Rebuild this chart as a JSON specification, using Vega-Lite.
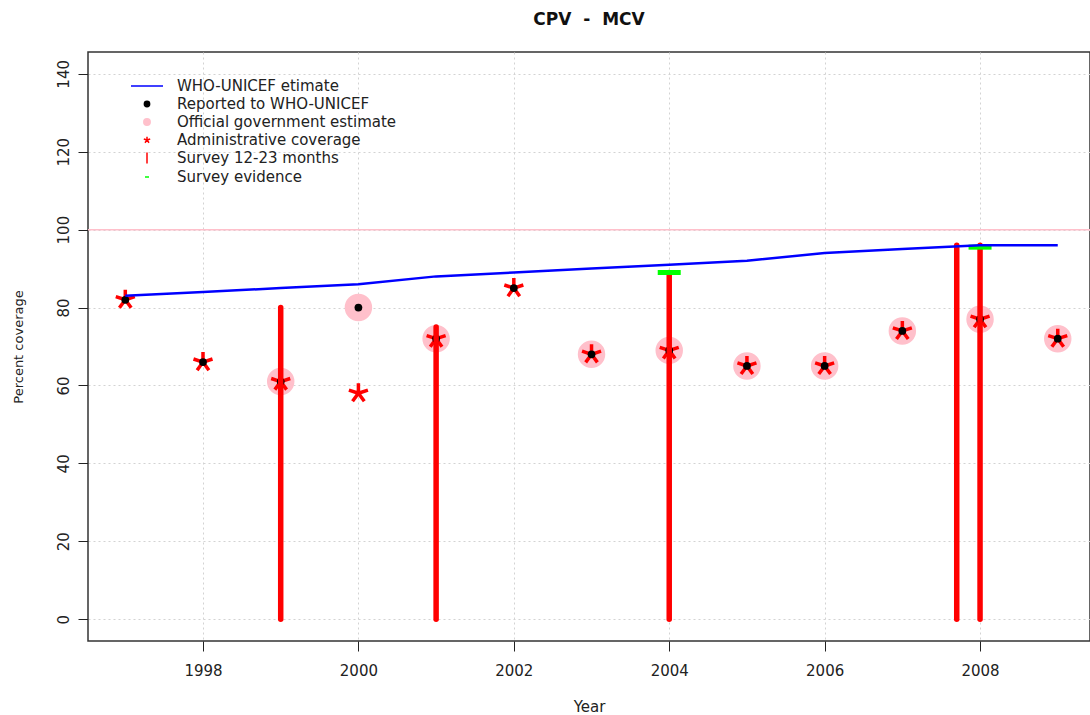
{
  "$schema": "https://vega.github.io/schema/vega-lite/v6.json",
  "width": 1002,
  "height": 589,
  "autosize": {"type": "none"},
  "padding": {"left": 88, "top": 52, "right": 0, "bottom": 74},
  "background": "white",
  "title": {"text": "CPV \u00a0-\u00a0 MCV", "font": "DejaVu Sans", "fontSize": 17, "fontWeight": "bold", "color": "#111111", "anchor": "middle", "baseline": "alphabetic", "frame": "group", "offset": 10},
  "datasets": {
    "main": [
      {"year": 1997, "who": 83, "reported": 82, "official": null, "admin": 82},
      {"year": 1998, "who": 84, "reported": 66, "official": null, "admin": 66},
      {"year": 1999, "who": 85, "reported": 61, "official": 61, "admin": 61},
      {"year": 2000, "who": 86, "reported": 80, "official": 80, "admin": 58},
      {"year": 2001, "who": 88, "reported": 72, "official": 72, "admin": 72},
      {"year": 2002, "who": 89, "reported": 85, "official": null, "admin": 85},
      {"year": 2003, "who": 90, "reported": 68, "official": 68, "admin": 68},
      {"year": 2004, "who": 91, "reported": 69, "official": 69, "admin": 69},
      {"year": 2005, "who": 92, "reported": 65, "official": 65, "admin": 65},
      {"year": 2006, "who": 94, "reported": 65, "official": 65, "admin": 65},
      {"year": 2007, "who": 95, "reported": 74, "official": 74, "admin": 74},
      {"year": 2008, "who": 96, "reported": 77, "official": 77, "admin": 77},
      {"year": 2009, "who": 96, "reported": 72, "official": 72, "admin": 72}
    ],
    "survey": [
      {"year": 1999, "survey": 80},
      {"year": 2001, "survey": 75},
      {"year": 2004, "survey": 89},
      {"year": 2007.7, "survey": 96},
      {"year": 2008, "survey": 96}
    ],
    "evidence": [
      {"year": 2004, "evidence": 89},
      {"year": 2008, "evidence": 95.5}
    ],
    "ref": [{"ref": 100}],
    "legend": [
      {"series": "WHO-UNICEF etimate"},
      {"series": "Reported to WHO-UNICEF"},
      {"series": "Official government estimate"},
      {"series": "Administrative coverage"},
      {"series": "Survey 12-23 months"},
      {"series": "Survey evidence"}
    ]
  },
  "layer": [
    {
      "data": {"name": "ref"},
      "mark": {"type": "rule", "color": "#FFC0CB", "strokeWidth": 1.5},
      "encoding": {
        "y": {"field": "ref", "type": "quantitative", "title": "Percent coverage", "scale": {"domain": [-5.6, 145.6], "nice": false, "zero": false}, "axis": {"values": [0, 20, 40, 60, 80, 100, 120, 140]}}
      }
    },
    {
      "data": {"name": "main"},
      "mark": {"type": "point", "shape": "circle", "filled": true, "color": "#FFC0CB", "size": 755, "opacity": 1},
      "encoding": {
        "x": {"field": "year", "type": "quantitative", "title": "Year", "scale": {"domain": [1996.52, 2009.415], "nice": false, "zero": false}, "axis": {"values": [1998, 2000, 2002, 2004, 2006, 2008], "format": "d"}},
        "y": {"field": "official", "type": "quantitative", "title": "Percent coverage"}
      }
    },
    {
      "data": {"name": "main"},
      "mark": {"type": "point", "shape": "M0,0L0,-1M0,0L0.951,-0.309M0,0L0.588,0.809M0,0L-0.588,0.809M0,0L-0.951,-0.309", "filled": false, "stroke": "#FF0000", "strokeWidth": 3.5, "size": 400, "opacity": 1},
      "encoding": {
        "x": {"field": "year", "type": "quantitative", "title": "Year"},
        "y": {"field": "admin", "type": "quantitative", "title": "Percent coverage"}
      }
    },
    {
      "data": {"name": "main"},
      "mark": {"type": "point", "shape": "circle", "filled": true, "color": "#000000", "size": 60, "opacity": 1},
      "encoding": {
        "x": {"field": "year", "type": "quantitative", "title": "Year"},
        "y": {"field": "reported", "type": "quantitative", "title": "Percent coverage"}
      }
    },
    {
      "data": {"name": "survey"},
      "mark": {"type": "rule", "color": "#FF0000", "strokeWidth": 5.5, "strokeCap": "round"},
      "encoding": {
        "x": {"field": "year", "type": "quantitative", "title": "Year"},
        "y": {"field": "survey", "type": "quantitative", "title": "Percent coverage"},
        "y2": {"datum": 0}
      }
    },
    {
      "data": {"name": "evidence"},
      "mark": {"type": "tick", "orient": "horizontal", "color": "#00FF00", "size": 23, "thickness": 5, "opacity": 1},
      "encoding": {
        "x": {"field": "year", "type": "quantitative", "title": "Year"},
        "y": {"field": "evidence", "type": "quantitative", "title": "Percent coverage"}
      }
    },
    {
      "data": {"name": "main"},
      "mark": {"type": "line", "color": "#0000FF", "strokeWidth": 2.5},
      "encoding": {
        "x": {"field": "year", "type": "quantitative", "title": "Year"},
        "y": {"field": "who", "type": "quantitative", "title": "Percent coverage"}
      }
    },
    {
      "data": {"name": "legend"},
      "transform": [{"filter": "false"}],
      "mark": {"type": "point", "filled": true, "size": 256, "strokeWidth": 1.5, "opacity": 1},
      "encoding": {
        "fill": {"field": "series", "type": "nominal", "title": null,
          "scale": {"domain": ["WHO-UNICEF etimate", "Reported to WHO-UNICEF", "Official government estimate", "Administrative coverage", "Survey 12-23 months", "Survey evidence"],
                    "range": ["transparent", "#000000", "#FFC0CB", "transparent", "transparent", "transparent"]},
          "legend": {"title": null, "orient": "none", "legendX": 50, "legendY": 25}},
        "stroke": {"field": "series", "type": "nominal", "title": null,
          "scale": {"domain": ["WHO-UNICEF etimate", "Reported to WHO-UNICEF", "Official government estimate", "Administrative coverage", "Survey 12-23 months", "Survey evidence"],
                    "range": ["#0000FF", "#000000", "#FFC0CB", "#FF0000", "#FF0000", "#00FF00"]},
          "legend": {"title": null, "orient": "none", "legendX": 50, "legendY": 25}},
        "shape": {"field": "series", "type": "nominal", "title": null,
          "scale": {"domain": ["WHO-UNICEF etimate", "Reported to WHO-UNICEF", "Official government estimate", "Administrative coverage", "Survey 12-23 months", "Survey evidence"],
                    "range": ["M-2,0L2,0", "M-0.33,0A0.33,0.33,0,1,1,0.33,0A0.33,0.33,0,1,1,-0.33,0Z", "M-0.4,0A0.4,0.4,0,1,1,0.4,0A0.4,0.4,0,1,1,-0.4,0Z", "M0,0L0,-0.42M0,0L0.4,-0.13M0,0L0.25,0.34M0,0L-0.25,0.34M0,0L-0.4,-0.13", "M0,-0.7L0,0.7", "M-0.25,0L0.25,0"]},
          "legend": {"title": null, "orient": "none", "legendX": 50, "legendY": 25}}
      }
    }
  ],
  "config": {
    "font": "DejaVu Sans",
    "view": {"stroke": "#333333", "strokeWidth": 1.5},
    "axis": {"domain": false, "grid": true, "gridColor": "#D3D3D3", "gridDash": [2, 3], "gridWidth": 1, "tickColor": "#222222", "tickSize": 10, "tickWidth": 1, "labelFont": "DejaVu Sans", "labelFontSize": 15, "labelColor": "#222222", "labelFlush": false, "labelOverlap": false, "titleFont": "DejaVu Sans", "titleFontWeight": "normal", "titleColor": "#222222"},
    "axisX": {"labelPadding": 12, "titleY": 70, "titleBaseline": "alphabetic", "titleFontSize": 15},
    "axisY": {"labelAngle": -90, "labelAlign": "center", "labelBaseline": "alphabetic", "labelPadding": 10, "titleX": -66, "titleBaseline": "alphabetic", "titleFontSize": 13},
    "legend": {"orient": "none", "legendX": 50, "legendY": 25, "padding": 0, "labelFont": "DejaVu Sans", "labelFontSize": 15, "labelColor": "#222222", "labelOffset": 21, "rowPadding": 1, "symbolSize": 256, "symbolStrokeWidth": 1.5, "labelLimit": 400}
  }
}
